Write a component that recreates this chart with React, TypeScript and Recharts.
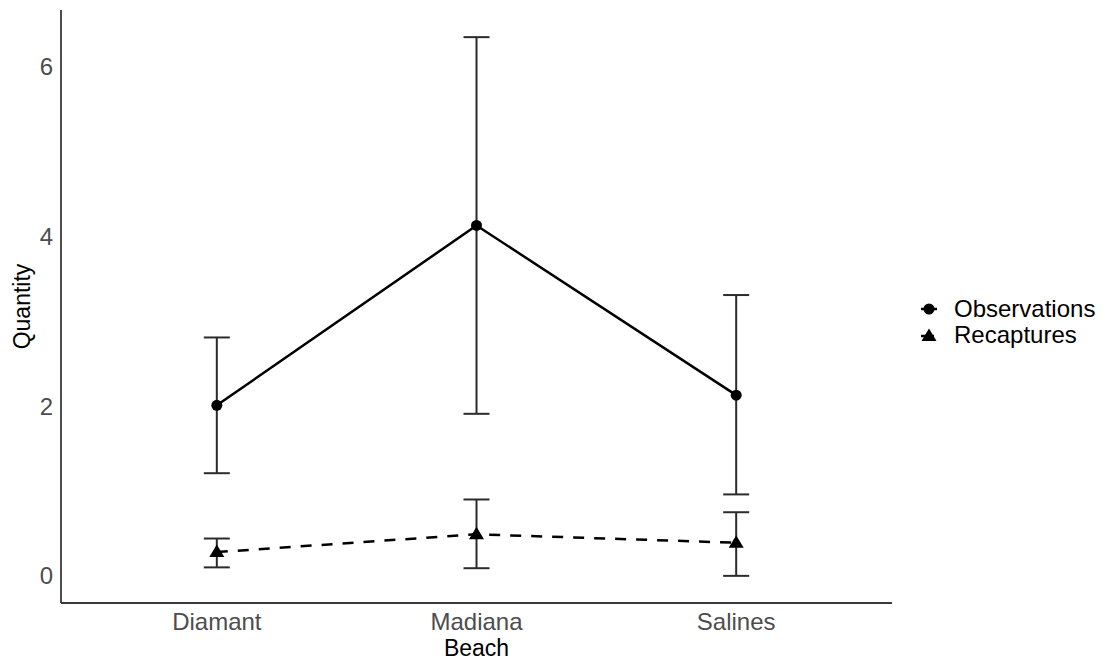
import React from 'react'
import { ComposedChart, Line, XAxis, YAxis, ErrorBar } from 'recharts'

// ─── Data ─────────────────────────────────────────────────────────────────────

const beaches = ['Diamant', 'Madiana', 'Salines']

const obsMean = [2.01, 4.13, 2.13]
const obsLow = [1.21, 1.91, 0.96]
const obsHigh = [2.81, 6.35, 3.31]

const recMean = [0.28, 0.49, 0.39]
const recLow = [0.1, 0.09, 0.0]
const recHigh = [0.44, 0.9, 0.75]

const yTicks = [0, 2, 4, 6]

const FONT = '"Liberation Sans", Arial, Helvetica, sans-serif'

// chart rows built from the arrays above (error bars as [below, above] offsets)
const rows = beaches.map((beach, i) => ({
  x: i,
  beach,
  obs: obsMean[i],
  obsErr: [obsMean[i] - obsLow[i], obsHigh[i] - obsMean[i]],
  rec: recMean[i],
  recErr: [recMean[i] - recLow[i], recHigh[i] - recMean[i]],
}))

// ─── Shapes ───────────────────────────────────────────────────────────────────

function TriangleDot(props: any) {
  const { cx, cy, index } = props
  if (cx == null || cy == null) return <g key={`t-${index}`} />
  return (
    <polygon
      key={`t-${index}`}
      points={`${cx},${cy - 7.5} ${cx - 7.5},${cy + 5} ${cx + 7.5},${cy + 5}`}
      fill="#000"
    />
  )
}

function QuantityLabel(props: any) {
  const vb = props.viewBox || {}
  const cx = 30
  const cy = (vb.y ?? 10) + (vb.height ?? 593) / 2
  return (
    <text
      x={cx}
      y={cy}
      transform={`rotate(-90, ${cx}, ${cy})`}
      textAnchor="middle"
      fontSize={23}
      fontFamily={FONT}
      fill="#000"
    >
      Quantity
    </text>
  )
}

function BeachLabel(props: any) {
  const vb = props.viewBox || {}
  const cx = (vb.x ?? 61) + (vb.width ?? 831) / 2
  return (
    <text x={cx} y={656} textAnchor="middle" fontSize={23} fontFamily={FONT} fill="#000">
      Beach
    </text>
  )
}

// ─── Legend ───────────────────────────────────────────────────────────────────

function LegendBox() {
  return (
    <svg
      width={190}
      height={60}
      style={{ position: 'absolute', left: 915, top: 292, overflow: 'visible' }}
    >
      {/* Observations */}
      <line x1={6} x2={22} y1={17} y2={17} stroke="#000" strokeWidth={2.5} />
      <circle cx={14} cy={17} r={5.5} fill="#000" />
      <text x={39} y={25} fontSize={24} fontFamily={FONT} fill="#000">
        Observations
      </text>
      {/* Recaptures */}
      <line x1={6} x2={22} y1={44} y2={44} stroke="#000" strokeWidth={2.5} strokeDasharray="5 3" />
      <polygon points="14,36.5 6.5,49 21.5,49" fill="#000" />
      <text x={39} y={51} fontSize={24} fontFamily={FONT} fill="#000">
        Recaptures
      </text>
    </svg>
  )
}

// ─── Component ────────────────────────────────────────────────────────────────

export default function App() {
  return (
    <>
      <style>{'html,body{margin:0;padding:0;overflow:hidden;background:#fff}'}</style>
      <div style={{ width: 1106, height: 663, position: 'relative', background: '#fff', fontFamily: FONT }}>
        <ComposedChart
          width={1106}
          height={663}
          data={rows}
          margin={{ top: 10, right: 214, bottom: 0, left: 0 }}
        >
          <XAxis
            dataKey="x"
            type="number"
            domain={[-0.6, 2.6]}
            ticks={[0, 1, 2]}
            tickFormatter={(v: number) => beaches[v] ?? ''}
            tick={{ fontSize: 24, fill: '#4d4d4d', fontFamily: FONT }}
            tickLine={false}
            tickMargin={4}
            axisLine={{ stroke: '#3a3a3a', strokeWidth: 1.8 }}
            height={60}
            allowDataOverflow
            label={<BeachLabel />}
          />
          <YAxis
            type="number"
            domain={[-0.32, 6.67]}
            ticks={yTicks}
            tick={{ fontSize: 24, fill: '#4d4d4d', fontFamily: FONT }}
            tickLine={false}
            axisLine={{ stroke: '#3a3a3a', strokeWidth: 1.8 }}
            width={61}
            allowDataOverflow
            label={<QuantityLabel />}
          />
          <Line
            dataKey="obs"
            type="linear"
            stroke="#000"
            strokeWidth={2.5}
            dot={{ r: 5.5, fill: '#000', stroke: 'none' }}
            activeDot={false}
            isAnimationActive={false}
          >
            <ErrorBar dataKey="obsErr" direction="y" width={13} stroke="#2b2b2b" strokeWidth={2} isAnimationActive={false} />
          </Line>
          <Line
            dataKey="rec"
            type="linear"
            stroke="#000"
            strokeWidth={2.5}
            strokeDasharray="11 10"
            dot={TriangleDot}
            activeDot={false}
            isAnimationActive={false}
          >
            <ErrorBar dataKey="recErr" direction="y" width={13} stroke="#2b2b2b" strokeWidth={2} isAnimationActive={false} />
          </Line>
        </ComposedChart>
        <LegendBox />
      </div>
    </>
  )
}
